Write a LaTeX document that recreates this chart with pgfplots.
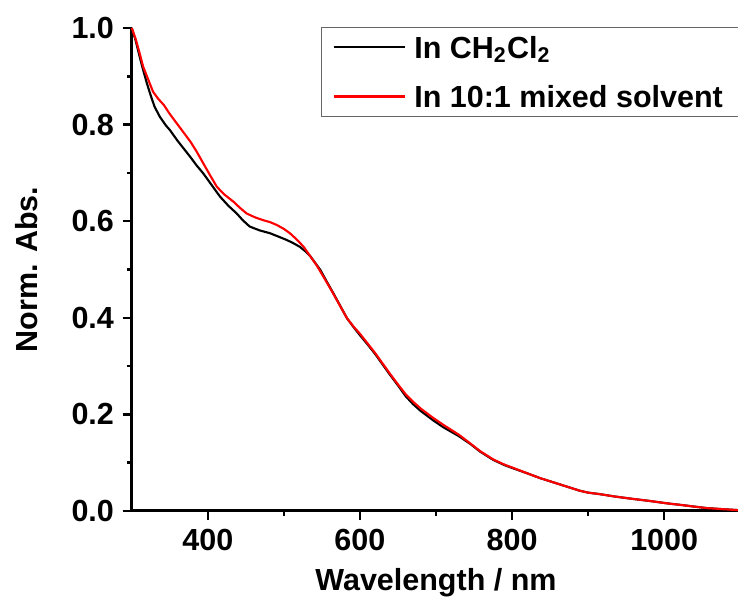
\documentclass[border=0pt]{standalone}
\usepackage{pgfplots}
\pgfplotsset{compat=1.18}
\usepackage{fontspec}
\setmainfont{Liberation Sans}
\newcommand{\F}{\fontsize{12.2}{14.6}\selectfont\bfseries}
\begin{document}
\begin{tikzpicture}
\begin{axis}[
  at={(0,0)}, anchor=south west,
  scale only axis, width=243.4pt, height=193.2pt,
  xmin=300, xmax=1100, ymin=0, ymax=1,
  axis x line*=bottom, axis y line*=left,
  axis line style={-, line width=1.2pt},
  xtick={400,600,800,1000},
  minor xtick={500,700,900},
  ytick={0,0.2,0.4,0.6,0.8,1.0},
  minor ytick={0.1,0.3,0.5,0.7,0.9},
  tick align=outside,
  major tick length=3.6pt, minor tick length=1.9pt,
  every tick/.style={black, line width=1pt},
  /pgf/number format/assume math mode=true,
  ticklabel style={font=\F},
  yticklabel style={/pgf/number format/.cd, fixed, fixed zerofill, precision=1},
  xticklabel style={/pgf/number format/1000 sep={}},
  xlabel={Wavelength / nm},
  ylabel={Norm. Abs.},
  label style={font=\F},
  xlabel style={at={(axis description cs:0.5,-0.1636)}, anchor=base},
  ylabel style={at={(axis description cs:-0.1556,0.5)}, anchor=base},
  legend cell align=left,
  legend style={at={(axis description cs:0.311,1.003)}, anchor=north west,
    draw=black!60, line width=0.5pt, font=\F, inner xsep=4.3pt, inner ysep=1.6pt,
    row sep=7.0pt,
    nodes={inner sep=2pt, text height=8.8pt, text depth=0pt}},
  legend image code/.code={\draw[#1, line width=1pt] (1.6pt,0pt) -- (30.2pt,0pt);},
  clip=false,
]
\addplot[black, line width=0.85pt] coordinates {
(300,1.000)(305,0.975)(310,0.943)(315,0.913)(320,0.885)(325,0.860)(330,0.837)
(337,0.816)(345,0.798)(350,0.789)(360,0.767)(370,0.747)(377,0.733)(385,0.716)
(394,0.699)(405,0.675)(416,0.651)(427,0.632)(438,0.616)(446,0.602)(455,0.589)
(468,0.581)(482,0.575)(493,0.568)(504,0.561)(513,0.554)(521,0.547)(528,0.538)
(535,0.527)(541,0.514)(548,0.499)(556,0.476)(565,0.451)(574,0.425)(583,0.399)
(592,0.380)(600,0.364)(610,0.345)(620,0.325)(630,0.303)(640,0.281)(650,0.260)
(660,0.238)(670,0.221)(680,0.207)(696,0.188)(710,0.173)(730,0.155)(745,0.139)
(758,0.123)(775,0.106)(790,0.095)(802,0.088)(820,0.078)(837,0.068)(859,0.057)
(875,0.049)(889,0.042)(900,0.038)(915,0.035)(935,0.030)(959,0.025)(980,0.021)
(1003,0.016)(1025,0.012)(1040,0.009)(1056,0.006)(1075,0.004)(1095,0.002)(1100,0.001)
};
\addlegendentry{\hspace*{1.2pt}In CH\textsubscript{2}Cl\textsubscript{2}}
\addplot[red, line width=0.85pt] coordinates {
(300,1.000)(305,0.978)(310,0.950)(315,0.920)(320,0.900)(328,0.868)(335,0.853)
(342,0.841)(350,0.822)(359,0.803)(368,0.784)(377,0.765)(385,0.745)(394,0.720)
(403,0.695)(412,0.671)(422,0.655)(434,0.640)(442,0.628)(451,0.616)(462,0.608)
(473,0.602)(482,0.598)(491,0.592)(500,0.584)(508,0.575)(517,0.562)(526,0.547)
(534,0.529)(543,0.509)(552,0.485)(561,0.461)(572,0.430)(583,0.399)(592,0.381)
(600,0.367)(610,0.347)(620,0.327)(630,0.305)(640,0.283)(650,0.262)(660,0.242)
(670,0.226)(680,0.212)(696,0.193)(710,0.178)(730,0.158)(745,0.140)(758,0.124)
(775,0.107)(790,0.096)(802,0.089)(820,0.078)(837,0.068)(859,0.057)(875,0.049)
(889,0.042)(900,0.038)(915,0.035)(935,0.030)(959,0.025)(980,0.021)(1003,0.016)
(1025,0.012)(1040,0.009)(1056,0.006)(1075,0.004)(1095,0.002)(1100,0.001)
};
\addlegendentry{\hspace*{1.2pt}In 10:1 mixed solvent\hspace*{4pt}}
\end{axis}
\pgfresetboundingbox
\path (-52.7pt,-39.2pt) rectangle (242.5pt,204.4pt);
\end{tikzpicture}
\end{document}
